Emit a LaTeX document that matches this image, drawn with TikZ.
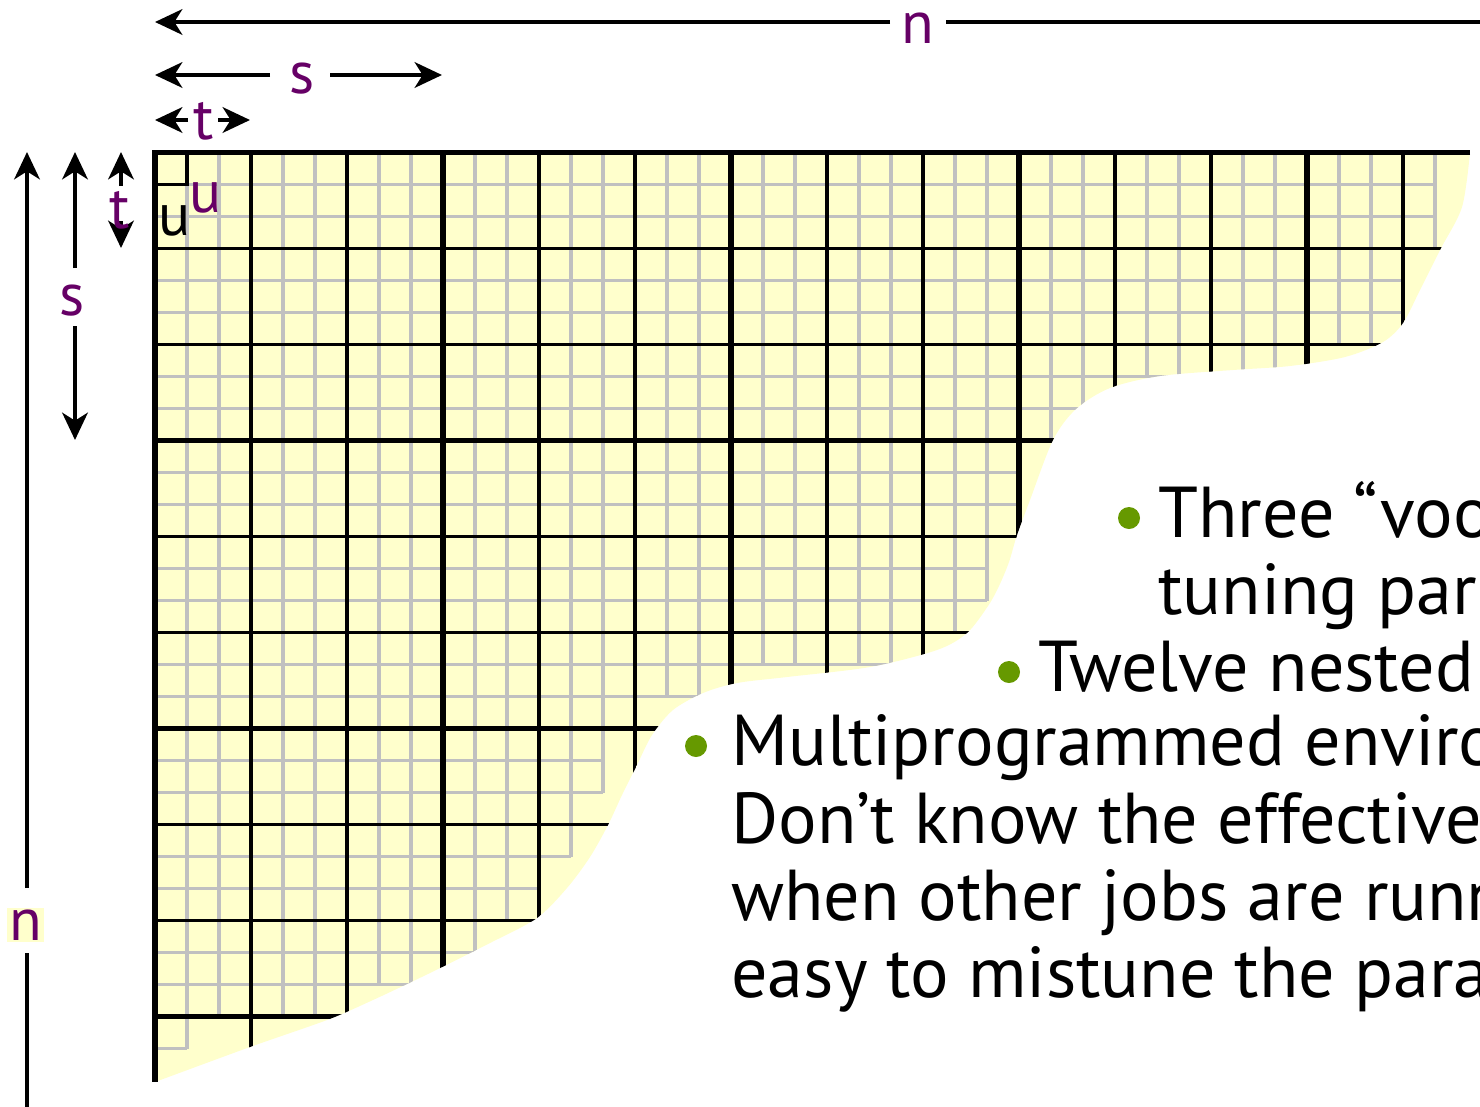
\documentclass[tikz,border=0pt]{standalone}
\usepackage{fontspec}
\setmainfont{PT Sans}
\usetikzlibrary{arrows.meta}
\definecolor{yel}{HTML}{FFFFCC}
\definecolor{gridgray}{HTML}{C0C0C0}
\definecolor{lblpurple}{HTML}{660066}
\definecolor{bulletgreen}{HTML}{669900}
\def\yregion{(155,152.5) -- plot[smooth, tension=0.5] coordinates {(1470,152.5) (1462,207) (1440,250) (1420,290) (1403,323) (1383,342) (1345,357) (1290,366) (1233,370) (1160,376) (1110,388) (1076,409) (1053,440) (1030,500) (1017,535) (1009,562) (999,586) (988,606) (967,633) (937,650) (870,667) (787,677) (737,683) (703,693) (673,710) (652,735) (637,765) (622,795) (608,825) (590,857) (567,888) (537,918) (490,943) (430,973) (373,1000) (327,1020) (250,1047) (155,1082)} -- cycle}
\begin{document}
\begin{tikzpicture}[x=0.02cm,y=-0.02cm,
  gl/.style={draw=gridgray, line width=1.9pt},
  bl/.style={draw=black, line width=1.8pt},
  blthick/.style={draw=black, line width=3.1pt},
  border/.style={draw=black, line width=3.4pt},
  arrline/.style={draw=black, line width=2.5pt},
  arr/.style={arrline, -{Stealth[length=15.5pt,width=14.5pt,inset=4.5pt]}},
  lbl/.style={text=lblpurple, font=\fontsize{34}{40}\selectfont, inner sep=0pt},
  body/.style={font=\fontsize{41}{48}\selectfont, inner sep=0pt, anchor=base west},
  dot/.style={circle, fill=bulletgreen, inner sep=0pt, minimum size=0.44cm}]
\useasboundingbox (0,0) rectangle (1480,1106);
\clip (0,0) rectangle (1480,1106);
% yellow region
\fill[yel] \yregion;
\begin{scope}
  \clip \yregion;
  % fine gray grid, stair-stepped row by row
  \foreach \r/\n in {0/40,1/40,2/40,3/39,4/39,5/38,6/36,7/29,8/28,9/27,10/27,11/27,12/26,13/26,14/25,15/23,16/17,17/15,18/14,19/14,20/13,21/13,22/12,23/12,24/10,25/8,26/6,27/1}{
    \pgfmathsetmacro\yt{152.5+32*\r}
    \pgfmathsetmacro\yb{152.5+32*(\r+1)}
    \pgfmathsetmacro\xr{155+32*\n}
    \draw[gl] (155,\yt) -- (\xr,\yt) (155,\yb) -- (\xr,\yb);
    \foreach \k in {1,...,\n}{
      \draw[gl] ({155+32*\k},\yt) -- ({155+32*\k},\yb);
    }
  }
  % black t-block lines
  \foreach \k in {1,2,4,5,7,8}{
    \draw[bl] (155,{152.5+96*\k}) -- (1480,{152.5+96*\k});
  }
  \foreach \k in {1,2,4,5,7,8,10,11,13}{
    \draw[bl] ({155+96*\k},152.5) -- ({155+96*\k},1106);
  }
  % thick s-block lines
  \foreach \k in {3,6,9}{
    \draw[blthick] (155,{152.5+96*\k}) -- (1480,{152.5+96*\k});
  }
  \foreach \k in {3,6,9,12}{
    \draw[blthick] ({155+96*\k},152.5) -- ({155+96*\k},1106);
  }
\end{scope}
% outer border of the matrix
\coordinate (cTL) at (155,152.5);
\coordinate (cTR) at (1470,152.5);
\coordinate (cBL) at (155,1082);
\draw[border] (cTR) -- (cTL) -- (cBL);
% the single u-cell
\coordinate (uA) at (187,152.5);
\coordinate (uB) at (187,184.5);
\coordinate (uC) at (155,184.5);
\draw[bl] (uA) -- (uB) -- (uC);
\node[font=\fontsize{34}{40}\selectfont, inner sep=0pt, anchor=base] (uBlack) at (174.5,235) {u};
\node[lbl, anchor=base] (uPurple) at (205.5,212) {u};
% horizontal dimension arrows
\node[lbl, anchor=base] (nTop) at (918,43) {n};
\coordinate (nTopTip) at (155,22);
\coordinate (nTopL) at (890,22);
\coordinate (nTopR) at (946,22);
\coordinate (nTopEnd) at (1495,22);
\draw[arr] (nTopL) -- (nTopTip);
\draw[arrline] (nTopR) -- (nTopEnd);
\node[lbl, anchor=base] (sTop) at (302,93) {s};
\coordinate (sTopTipL) at (155,75);
\coordinate (sTopL) at (270,75);
\coordinate (sTopR) at (330,75);
\coordinate (sTopTipR) at (442,75);
\draw[arr] (sTopL) -- (sTopTipL);
\draw[arr] (sTopR) -- (sTopTipR);
\node[lbl, anchor=base] (tTop) at (204,139) {t};
\coordinate (tTopTipL) at (155,120);
\coordinate (tTopL) at (188,120);
\coordinate (tTopR) at (218,120);
\coordinate (tTopTipR) at (250,120);
\draw[arr] (tTopL) -- (tTopTipL);
\draw[arr] (tTopR) -- (tTopTipR);
% vertical dimension arrows
\node[lbl, anchor=base, fill=yel, inner sep=1pt] (nLeft) at (25.5,940) {n};
\coordinate (nLeftTip) at (27,152);
\coordinate (nLeftA) at (27,888);
\coordinate (nLeftB) at (27,953);
\coordinate (nLeftEnd) at (27,1115);
\draw[arr] (nLeftA) -- (nLeftTip);
\draw[arrline] (nLeftB) -- (nLeftEnd);
\node[lbl, anchor=base] (sLeft) at (72.5,315) {s};
\coordinate (sLeftTipT) at (75,152);
\coordinate (sLeftA) at (75,268);
\coordinate (sLeftB) at (75,326);
\coordinate (sLeftTipB) at (75,440);
\draw[arr] (sLeftA) -- (sLeftTipT);
\draw[arr] (sLeftB) -- (sLeftTipB);
\coordinate (tLeftTipT) at (121,152);
\coordinate (tLeftA) at (121,186);
\coordinate (tLeftB) at (121,221);
\coordinate (tLeftTipB) at (121,248);
\draw[arr] (tLeftA) -- (tLeftTipT);
\draw[arr] (tLeftB) -- (tLeftTipB);
\node[lbl, anchor=base] (tLeft) at (120,228) {t};
% bullet text
\node[dot] (b1) at (1129,518) {};
\node[body] (t1) at (1158,537) {Three “voo};
\node[body] (t2) at (1158,614) {tuning par};
\node[dot] (b2) at (1009,672) {};
\node[body] (t3) at (1038,691) {Twelve nested};
\node[dot] (b3) at (696,746) {};
\node[body] (t4) at (731,765) {Multiprogrammed enviro};
\node[body] (t5) at (731,843) {Don’t know the effective};
\node[body] (t6) at (731,920) {when other jobs are runn};
\node[body] (t7) at (731,997) {easy to mistune the para};
\end{tikzpicture}
\end{document}
